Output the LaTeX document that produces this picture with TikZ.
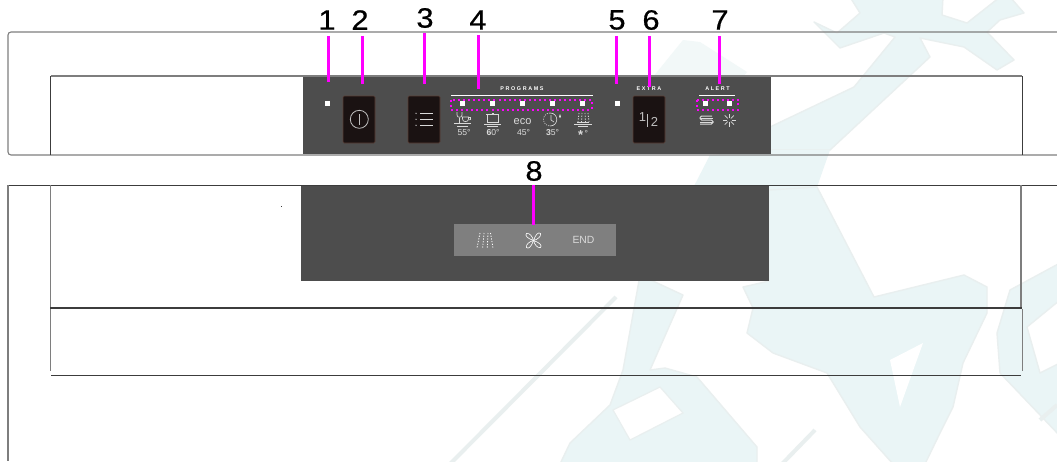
\documentclass[tikz,border=0pt]{standalone}
\usepackage{fontspec}
\setmainfont{Liberation Sans}
\newfontfamily\spaced[LetterSpace=30]{Liberation Sans Bold}
\newfontfamily\numfont[FakeBold=0.6,FakeStretch=1.1]{Liberation Sans}
\definecolor{wmark}{HTML}{EAF5F6}
\definecolor{wedge}{HTML}{E9EFEF}
\definecolor{wpale}{HTML}{F2F8F8}
\definecolor{panel}{HTML}{4D4D4D}
\definecolor{strip}{HTML}{7F7F7F}
\definecolor{btn}{HTML}{1A1212}
\definecolor{btnedge}{HTML}{5A3F36}
\definecolor{pink}{HTML}{FF00FF}
\definecolor{icon}{HTML}{DADADA}
\definecolor{lgray}{HTML}{7E7E7E}
\definecolor{ldark}{HTML}{3C3C3C}
\tikzset{
  wm/.style={fill=wmark,draw=wedge,line width=1.4pt,line join=round},
  wmhole/.style={fill=white,draw=wedge,line width=1.2pt},
  wstripe/.style={draw=wedge,line width=4pt},
  glight/.style={draw=lgray,line width=1.1pt},
  gdark/.style={draw=ldark,line width=1pt},
  numlab/.style={inner sep=0pt,font=\numfont\fontsize{28}{28}\selectfont,text=black},
  callout/.style={draw=pink,line width=3pt},
  dotbox/.style={draw=pink,line width=2pt,dash pattern=on 2pt off 3.05pt},
  led/.style={fill=white,draw=none,minimum size=5.6pt,inner sep=0pt},
  btnbox/.style={fill=btn,draw=btnedge,line width=.6pt,rounded corners=1.2pt,minimum width=32pt,minimum height=47pt,inner sep=0pt},
  ic/.style={draw=icon,line width=.65pt},
  dotted line/.style={draw=white,line width=.8pt,dash pattern=on 1.2pt off 1.5pt},
  tiny/.style={inner sep=0pt,text=white,font=\spaced\fontsize{5.4}{6}\selectfont},
  temp/.style={inner sep=0pt,text=icon,font=\fontsize{8.6}{9}\selectfont},
}
\begin{document}
\begin{tikzpicture}[x=1pt,y=-1pt]
\useasboundingbox (0,0) rectangle (1057,461);
\clip (0,0) rectangle (1057,461);
\fill[white] (0,0) rectangle (1057,461);
% watermark
\path[wm,draw=none,fill=wpale] (653,77)--(683,40)--(700,42)--(747,72)--(725,100)--(660,100)--cycle;
\path[wm] (850,-3)--(943,-3)--(942,15)--(967,23)--(1000,-3)--(1010,-3)--(1024,13)--(1000,20)--(987,32)--(1014,60)--(997,70)--(964,47)--(920,38)--(930,57)--(830,150)--(770,150)--(770,127)--(854,87)--(895,37)--(884,33)--(840,48)--(814,22)--(837,33)--(860,13)--cycle;
\path[wm,draw=none] (830,150)--(817,187)--(760,190)--(692,190)--(710,155)--(770,150)--cycle;
\path[wm] (817,187)--(769,190)--(769,281)--(743,287)--(753,308)--(747,333)--(773,353)--(827,373)--(860,427)--(893,464)--(925,464)--(940,433)--(953,407)--(963,363)--(987,313)--(987,287)--(964,275)--(874,297)--cycle;
\path[wmhole,draw=none] (890,360)--(923,343)--(900,407)--cycle;
\path[wm] (640,275)--(683,295)--(650,370)--(665,368)--(697,377)--(757,447)--(757,464)--(560,464)--(570,443)--(610,405)--(623,370)--cycle;
\path[wmhole] (613,410)--(660,387)--(683,413)--(630,440)--cycle;
\path[wm] (1010,290)--(1060,263)--(1060,300)--(1027,327)--(1040,373)--(1060,363)--(1060,436)--(1000,373)--(997,333)--cycle;
\path[wstripe] (450,464)--(616,297);
\path[wstripe] (782,464)--(815,430);
\path[wstripe] (1040,420)--(1057,405);
% housing outlines
\draw[glight,rounded corners=3pt] (1060,32)--(8,32)--(8,155)--(1060,155);
\draw[glight] (50.5,76)--(1022,76);
\draw[gdark] (50.5,76)--(50.5,155);
\draw[gdark] (1022,76)--(1022,155);
\draw[gdark] (7,185)--(1057,185);
\draw[glight] (8,185)--(8,461);
\draw[glight] (50.5,185)--(50.5,307);
\draw[glight] (1021,185)--(1021,307);
\draw[gdark,line width=1.2pt] (50,308)--(1022,308);
\draw[draw=lgray,line width=.8pt] (50,309)--(50,371);
\draw[draw=lgray,line width=.8pt] (1022,309)--(1022,371);
\draw[gdark] (51,375)--(1021,375);
\fill[ldark] (280.6,205.6) rectangle +(1,1);
\fill[ldark] (689,307) rectangle +(6,2);
% panels
\fill[panel] (303,77) rectangle (771,154);
\fill[panel] (301,185.5) rectangle (769,281);
\fill[strip] (454,224) rectangle (616,256);
% buttons
\node[btnbox] (bpower) at (359,119.5) {};
\node[btnbox] (bmenu) at (424,119.5) {};
\node[btnbox] (bextra) at (649,119.5) {};
% leds
\node[led] (l1) at (327.5,103.5) {};
\node[led] (p1) at (462.5,103.5) {};
\node[led] (p2) at (492.5,103.5) {};
\node[led] (p3) at (522.5,103.5) {};
\node[led] (p4) at (552.5,103.5) {};
\node[led] (p5) at (582.5,103.5) {};
\node[led] (l5) at (617.3,103.5) {};
\node[led] (a1) at (705.3,103.5) {};
\node[led] (a2) at (729.3,103.5) {};
% rules + headings
\draw[white,line width=.8pt] (451,95.5)--(593,95.5);
\draw[white,line width=.8pt] (699,95.5)--(735,95.5);
\node[tiny] (tprog) at (522,89) {PROGRAMS};
\node[tiny] (textra) at (649,89) {EXTRA};
\node[tiny] (talert) at (717.5,89) {ALERT};
% dotted boxes
\draw[dotbox] (451,99.5) rectangle (592,109.5);
\draw[dotbox] (696.5,99.5) rectangle (738,109.5);
% power icon
\draw[ic,draw=lightgray,line width=.8pt] (359.3,119.3) circle (9);
\draw[ic,draw=lightgray,line width=.8pt] (359.3,114)--(359.3,124.5);
% menu icon
\foreach \y in {113.3,119.3,125.3}{
  \draw[draw=icon,line width=1.3pt] (420,\y)--(433,\y);
  \fill[icon] (416,\y) circle (.7);
}
% 1|2
\node[inner sep=0pt,text=lightgray,font=\fontsize{13}{13}\selectfont] (half1) at (642.5,117.5) {1};
\node[inner sep=0pt,text=lightgray,font=\fontsize{13}{13}\selectfont] (half2) at (654.5,122) {2};
\draw[draw=lightgray,line width=.7pt] (647.7,114)--(647.7,127);
\begin{scope}[ic]
% wine + cup
\draw (457,112)--(457,115) .. controls (457,118) and (462,118) .. (462,115)--(462,112);
\draw (459.5,117.5)--(459.5,122.5);
\draw (462.5,117)--(462.5,119) .. controls (462.5,122.5) and (468.5,122.5) .. (468.5,119)--(468.5,117)--cycle;
\draw (468.5,117.5)--(470.5,117.5)--(470.5,119.5)--(468.5,120);
\draw[line width=1pt] (454,123.7)--(471,123.7);
\draw (457,126)--(468,126);
% pot
\draw (487,114.5)--(487,122)--(498,122)--(498,114.5);
\draw[line width=1pt] (486,114.5)--(499,114.5);
\draw (491.5,113)--(493.5,113);
\draw[line width=1pt] (484,124)--(501,124);
\draw (487,126.3)--(498,126.3);
% clock
\draw[dash pattern=on 1.1pt off 1.2pt] (550,113) arc (-90:-270:6.5);
\draw (550,113) .. controls (559,113) and (559,126) .. (550,126);
\draw (551,115)--(551,120)--(554,122);
\draw (560,114.5) .. controls (558,118.5) and (562,118.5) .. (560,114.5);
% shower
\draw[dotted line,draw=icon] (579,113)--(578,122);
\draw[dotted line,draw=icon] (582,113)--(581.5,122);
\draw[dotted line,draw=icon] (585,113)--(585.5,122);
\draw[dotted line,draw=icon] (588,113)--(589,122);
\draw (577,122)--(589,122);
\draw[line width=1pt] (574,124)--(592,124);
\draw (578,126.5)--(588,126.5);
% alert icons
\draw[line width=1pt,rounded corners=1.6pt] (712,116)--(700,116)--(700,120)--(713,120)--(713,124)--(700,124);
\draw[line width=.8pt,rounded corners=1.2pt] (700,118)--(713,118) (700,122)--(713,122);
\foreach \a in {0,45,...,315}{\draw (729.3,120)+(\a:2.2) -- +(\a:6.5);}
% lower strip icons
\draw[dotted line] (480,233)--(477,248);
\draw[dotted line] (484,233)--(482.7,248);
\draw[dotted line] (488,233)--(487.3,248);
\draw[dotted line] (490.5,233)--(493,248);
\foreach \r in {0,90,180,270}{
  \draw[draw=white,line width=.6pt,shift={(533.5,240.5)},rotate=\r] (0,0) .. controls (-1,-4) and (-4,-8) .. (-7,-7) .. controls (-9,-5) and (-6,-2) .. (0,0);
}
\end{scope}
% temperatures
\node[temp] (t55) at (464,133) {55°};
\node[temp] (t60) at (493,133) {\textbf{6}0°};
\node[inner sep=0pt,text=icon,font=\fontsize{11}{11}\selectfont] (eco) at (522.5,122) {eco};
\node[temp] (t45) at (523.5,133) {45°};
\node[temp] (t35) at (552.5,133) {\textbf{3}5°};
\node[temp,anchor=base] (tsn) at (583,136) {\raisebox{-3.6pt}{\bfseries\fontsize{13}{13}\selectfont *}\,°};
\node[inner sep=0pt,text=icon,font=\fontsize{10.4}{11}\selectfont] (tend) at (583.5,240) {END};
% numbers
\node[numlab] (n1) at (327,20) {1};
\node[numlab] (n2) at (360,20) {2};
\node[numlab] (n3) at (425,18) {3};
\node[numlab] (n4) at (478,20) {4};
\node[numlab] (n5) at (617,20) {5};
\node[numlab] (n6) at (651,20) {6};
\node[numlab] (n7) at (720,20) {7};
\node[numlab] (n8) at (534,171) {8};
% callouts
\coordinate (c1) at (328.5,82); \coordinate (s1) at (328.5,36);
\coordinate (c2) at (362.3,84); \coordinate (s2) at (362.3,36);
\coordinate (c3) at (424.5,84); \coordinate (s3) at (424.5,33);
\coordinate (c4) at (478.5,89); \coordinate (s4) at (478.5,35);
\coordinate (c5) at (616.5,84); \coordinate (s5) at (616.5,36);
\coordinate (c6) at (649.5,87); \coordinate (s6) at (649.5,36);
\coordinate (c7) at (719.5,84); \coordinate (s7) at (719.5,36);
\coordinate (c8) at (533.5,225); \coordinate (s8) at (533.5,185);
\foreach \i in {1,...,8}{\draw[callout] (s\i)--(c\i);}
\end{tikzpicture}
\end{document}
